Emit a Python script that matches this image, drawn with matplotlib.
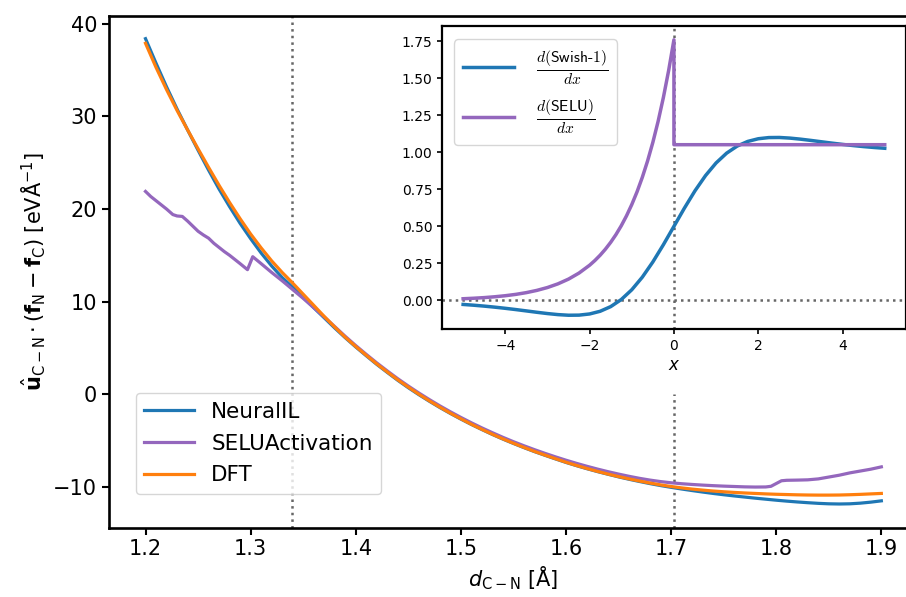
import matplotlib
matplotlib.use("Agg")
import matplotlib.pyplot as plt
from matplotlib.font_manager import FontProperties

# ---------------- main-panel data ----------------
d_grid = [1.20, 1.21, 1.22, 1.23, 1.24, 1.25, 1.26, 1.27, 1.28, 1.29,
          1.30, 1.31, 1.32, 1.33, 1.34, 1.35, 1.36, 1.37, 1.38, 1.39,
          1.40, 1.41, 1.42, 1.43, 1.44, 1.45, 1.46, 1.47, 1.48, 1.49,
          1.50, 1.51, 1.52, 1.53, 1.54, 1.55, 1.56, 1.57, 1.58, 1.59,
          1.60, 1.61, 1.62, 1.63, 1.64, 1.65, 1.66, 1.67, 1.68, 1.69,
          1.70, 1.71, 1.72, 1.73, 1.74, 1.75, 1.76, 1.77, 1.78, 1.79,
          1.80, 1.81, 1.82, 1.83, 1.84, 1.85, 1.86, 1.87, 1.88, 1.89, 1.90]

neuralil = [38.40, 35.75, 33.20, 30.80, 28.55, 26.35, 24.20, 22.15, 20.25, 18.45,
            16.80, 15.25, 13.85, 12.60, 11.55, 10.45, 9.35, 8.25, 7.15, 6.10,
            5.10, 4.15, 3.22, 2.35, 1.50, 0.70, -0.05, -0.76, -1.44, -2.08,
            -2.69, -3.27, -3.82, -4.35, -4.85, -5.32, -5.77, -6.20, -6.60, -6.99,
            -7.37, -7.72, -8.05, -8.36, -8.65, -8.93, -9.19, -9.43, -9.66, -9.87,
            -10.06, -10.24, -10.41, -10.57, -10.72, -10.86, -10.99, -11.11, -11.23, -11.34,
            -11.45, -11.55, -11.64, -11.72, -11.79, -11.84, -11.86, -11.84, -11.77, -11.66, -11.52]

dft = [37.90, 35.30, 32.90, 30.65, 28.55, 26.50, 24.50, 22.55, 20.70, 18.95,
       17.30, 15.80, 14.40, 13.15, 12.00, 10.80, 9.60, 8.40, 7.25, 6.15,
       5.15, 4.20, 3.27, 2.40, 1.55, 0.76, 0.00, -0.72, -1.40, -2.05,
       -2.66, -3.25, -3.80, -4.33, -4.83, -5.30, -5.75, -6.18, -6.58, -6.97,
       -7.35, -7.70, -8.03, -8.34, -8.63, -8.90, -9.15, -9.38, -9.60, -9.80,
       -9.97, -10.12, -10.25, -10.36, -10.46, -10.54, -10.61, -10.67, -10.72, -10.77,
       -10.81, -10.84, -10.87, -10.89, -10.90, -10.90, -10.89, -10.86, -10.82, -10.77, -10.72]

d_selu_grid = [1.200, 1.205, 1.210, 1.215, 1.220, 1.226, 1.230, 1.235, 1.240, 1.245,
               1.250, 1.255, 1.260, 1.265, 1.270, 1.275, 1.280, 1.285, 1.290, 1.297,
               1.302, 1.310, 1.320, 1.330, 1.340, 1.350, 1.360, 1.370, 1.380, 1.39,
               1.40, 1.41, 1.42, 1.43, 1.44, 1.45, 1.46, 1.47, 1.48, 1.49,
               1.50, 1.51, 1.52, 1.53, 1.54, 1.55, 1.56, 1.57, 1.58, 1.59,
               1.60, 1.61, 1.62, 1.63, 1.64, 1.65, 1.66, 1.67, 1.68, 1.69,
               1.70, 1.71, 1.72, 1.73, 1.74, 1.75, 1.76, 1.77, 1.78, 1.79,
               1.795, 1.800, 1.805, 1.810, 1.820, 1.830, 1.840, 1.850, 1.860, 1.870,
               1.880, 1.890, 1.900]

selu_act = [21.90, 21.35, 20.90, 20.45, 20.00, 19.40, 19.25, 19.20, 18.70, 18.15,
            17.60, 17.20, 16.85, 16.30, 15.85, 15.40, 15.00, 14.55, 14.10, 13.45,
            14.85, 14.10, 13.15, 12.25, 11.30, 10.35, 9.35, 8.35, 7.30, 6.25,
            5.25, 4.30, 3.38, 2.51, 1.67, 0.88, 0.13, -0.58, -1.26, -1.90,
            -2.51, -3.09, -3.64, -4.16, -4.66, -5.13, -5.57, -5.99, -6.39, -6.77,
            -7.13, -7.47, -7.79, -8.09, -8.37, -8.63, -8.87, -9.09, -9.28, -9.44,
            -9.57, -9.67, -9.75, -9.82, -9.88, -9.93, -9.97, -10.01, -10.03, -10.02,
            -9.95, -9.65, -9.35, -9.30, -9.28, -9.25, -9.15, -8.95, -8.75, -8.50,
            -8.30, -8.10, -7.85]

vline_left = 1.339
vline_right = 1.703
main_xticks = [1.2, 1.3, 1.4, 1.5, 1.6, 1.7, 1.8, 1.9]
main_yticks = [-10, 0, 10, 20, 30, 40]

# ---------------- inset data ----------------
x_swish = [-5.0, -4.75, -4.5, -4.25, -4.0, -3.75, -3.5, -3.25, -3.0, -2.75,
           -2.5, -2.25, -2.0, -1.75, -1.5, -1.25, -1.0, -0.75, -0.5, -0.25,
           0.0, 0.25, 0.5, 0.75, 1.0, 1.25, 1.5, 1.75, 2.0, 2.25,
           2.5, 2.75, 3.0, 3.25, 3.5, 3.75, 4.0, 4.25, 4.5, 4.75, 5.0]
d_swish = [-0.0266, -0.0318, -0.0379, -0.0449, -0.0527, -0.0612, -0.0703, -0.0795, -0.0881, -0.0952,
           -0.0994, -0.0987, -0.0908, -0.0727, -0.0413, 0.0063, 0.0723, 0.1574, 0.2600, 0.3763,
           0.5000, 0.6237, 0.7400, 0.8426, 0.9277, 0.9937, 1.0413, 1.0727, 1.0908, 1.0987,
           1.0994, 1.0952, 1.0881, 1.0795, 1.0703, 1.0612, 1.0527, 1.0449, 1.0379, 1.0318, 1.0266]

x_selu = [-5.0, -4.75, -4.5, -4.25, -4.0, -3.75, -3.5, -3.25, -3.0, -2.75,
          -2.5, -2.25, -2.0, -1.875, -1.75, -1.625, -1.5, -1.375, -1.25, -1.125,
          -1.0, -0.875, -0.75, -0.625, -0.5, -0.375, -0.25, -0.125, 0.0, 0.0,
          0.25, 0.5, 1.0, 1.5, 2.0, 2.5, 3.0, 3.5, 4.0, 4.5, 5.0]
d_selu = [0.0118, 0.0152, 0.0195, 0.0251, 0.0322, 0.0413, 0.0531, 0.0682, 0.0875, 0.1124,
          0.1443, 0.1853, 0.2379, 0.2696, 0.3055, 0.3462, 0.3923, 0.4445, 0.5037, 0.5708,
          0.6468, 0.7329, 0.8305, 0.9410, 1.0663, 1.2083, 1.3692, 1.5515, 1.7581, 1.0507,
          1.0507, 1.0507, 1.0507, 1.0507, 1.0507, 1.0507, 1.0507, 1.0507, 1.0507, 1.0507, 1.0507]

inset_xticks = [-4, -2, 0, 2, 4]
inset_yticks = [0.0, 0.25, 0.5, 0.75, 1.0, 1.25, 1.5, 1.75]

C_BLUE = "#1f77b4"
C_PURPLE = "#9467bd"
C_ORANGE = "#ff7f0e"
C_GREY = "0.4"

plt.rcParams["font.family"] = ["DejaVu Sans"]
plt.rcParams["font.size"] = 15
plt.rcParams["axes.linewidth"] = 1.9

fig = plt.figure(figsize=(9.06, 5.97), dpi=100)
ax = fig.add_axes([0.12, 0.1164, 0.8934, 0.8576])

ax.plot(d_grid, neuralil, color=C_BLUE, lw=2.3, label="NeuralIL")
ax.plot(d_selu_grid, selu_act, color=C_PURPLE, lw=2.3, label="SELUActivation")
ax.plot(d_grid, dft, color=C_ORANGE, lw=2.3, label="DFT")

ax.set_xlim(1.165, 1.935)
ax.set_ylim(-14.4, 40.9)
ylo, yhi = ax.get_ylim()
ax.axvline(vline_left, color=C_GREY, ls=":", lw=1.8, zorder=0.5)
ax.axvline(vline_right, ymax=(0 - ylo) / (yhi - ylo), color=C_GREY, ls=":", lw=1.8, zorder=0.5)

ax.set_xticks(main_xticks)
ax.set_yticks(main_yticks)
ax.tick_params(axis="both", which="major", labelsize=15, length=4.8, width=1.5)
ax.set_xlabel(r"$d_{\mathrm{C-N}}$ [Å]", fontsize=15)
ax.set_ylabel(r"$\hat{\mathbf{u}}_{\mathrm{C-N}}\cdot(\mathbf{f}_{\mathrm{N}}-\mathbf{f}_{\mathrm{C}})$ [eVÅ$^{-1}$]",
              fontsize=15)
ax.legend(loc="lower left", bbox_to_anchor=(0.0335, 0.0654), borderaxespad=0,
          fontsize=15.5, handlelength=2.3, labelspacing=0.55)

# ---------------- inset ----------------
axi = fig.add_axes([0.4879, 0.4489, 0.5119, 0.5075])
axi.plot(x_swish, d_swish, color=C_BLUE, lw=2.5,
         label=r"$\frac{d(\mathsf{Swish\text{-}1})}{dx}$")
axi.plot(x_selu, d_selu, color=C_PURPLE, lw=2.5,
         label=r"$\frac{d(\mathsf{SELU})}{dx}$")
axi.axhline(0, color=C_GREY, ls=":", lw=1.8, zorder=0.5)
axi.axvline(0, color=C_GREY, ls=":", lw=1.8, zorder=0.5)
axi.set_xticks(inset_xticks)
axi.set_yticks(inset_yticks)
axi.tick_params(axis="both", which="major", labelsize=10, length=3.5, width=1.2)
for s in axi.spines.values():
    s.set_linewidth(1.6)
axi.set_xlabel(r"$x$", fontsize=12, labelpad=2)
leg_prop = FontProperties(family="DejaVu Sans", size=16, math_fontfamily="cm")
axi.legend(loc="upper left", bbox_to_anchor=(0.0259, 0.956), borderaxespad=0,
           prop=leg_prop, handlelength=2.3, handletextpad=1.0, borderpad=0.4)

fig.savefig("out.png", dpi=100)
